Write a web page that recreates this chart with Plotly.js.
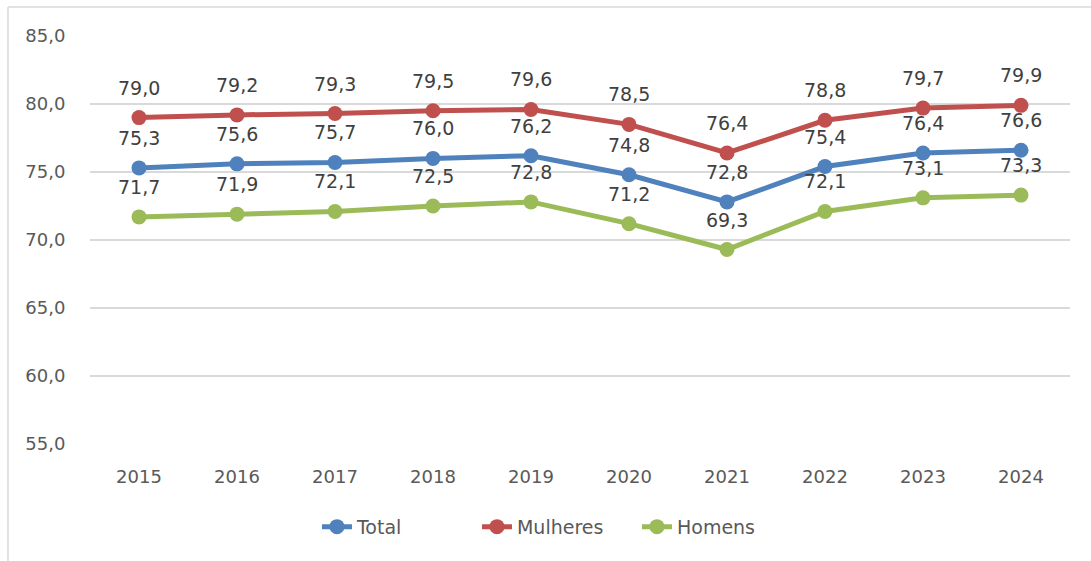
<!DOCTYPE html>
<html>
<head>
<meta charset="utf-8">
<script src="https://cdn.plot.ly/plotly-3.0.1.min.js"></script>
<style>html,body{margin:0;padding:0;background:#fff;}#chart{width:1091px;height:561px;}</style>
</head>
<body>
<div id="chart"></div>
<script>
const years = ['2015','2016','2017','2018','2019','2020','2021','2022','2023','2024'];
const total = [75.3, 75.6, 75.7, 76.0, 76.2, 74.8, 72.8, 75.4, 76.4, 76.6];
const mulheres = [79.0, 79.2, 79.3, 79.5, 79.6, 78.5, 76.4, 78.8, 79.7, 79.9];
const homens = [71.7, 71.9, 72.1, 72.5, 72.8, 71.2, 69.3, 72.1, 73.1, 73.3];
const seriesNames = ['Total', 'Mulheres', 'Homens'];
const colors = ['#4F81BD', '#C0504D', '#9BBB59'];
const yTicks = [55, 60, 65, 70, 75, 80, 85];

const FONT = 'DejaVu Sans, sans-serif';
const allSeries = [total, mulheres, homens];
const fmt = v => v.toFixed(1).replace('.', ',');
const xPos = years.map((_, i) => i);

const traces = allSeries.map((vals, i) => ({
  x: xPos, y: vals, name: seriesNames[i], type: 'scatter', mode: 'lines+markers',
  line: {color: colors[i], width: 5},
  marker: {color: colors[i], size: 15},
  hoverinfo: 'skip'
}));

const annotations = [];
allSeries.forEach(vals => {
  vals.forEach((v, j) => {
    annotations.push({
      x: xPos[j], y: v, xref: 'x', yref: 'y', text: fmt(v), showarrow: false,
      yanchor: 'middle', xanchor: 'center', yshift: 30,
      font: {family: FONT, size: 19, color: '#404040'}
    });
  });
});

const layout = {
  width: 1091, height: 561,
  margin: {l: 90, r: 21, t: 36, b: 117},
  paper_bgcolor: '#fff', plot_bgcolor: '#fff',
  separators: ',.',
  showlegend: true,
  legend: {orientation: 'h', x: 0.4765, xanchor: 'center', y: -0.203, yanchor: 'middle',
    font: {family: FONT, size: 19, color: '#595959'}, tracegroupgap: 0,
    entrywidth: 115, entrywidthmode: 'pixels'},
  xaxis: {type: 'linear', range: [-0.5, years.length - 0.5], tickvals: xPos, ticktext: years,
    showgrid: false, zeroline: false, showline: false,
    ticks: 'outside', ticklen: 16, tickcolor: 'rgba(0,0,0,0)',
    tickfont: {family: FONT, size: 18, color: '#595959'}},
  yaxis: {range: [55, 85], tickvals: yTicks, tickformat: '.1f',
    showgrid: true, gridcolor: '#D9D9D9', gridwidth: 1.5, zeroline: false, showline: false,
    ticks: 'outside', ticklen: 20, tickcolor: 'rgba(0,0,0,0)',
    tickfont: {family: FONT, size: 18, color: '#595959'}},
  annotations: annotations,
  shapes: [
    {type: 'line', xref: 'paper', yref: 'paper', x0: -0.0837, x1: 1.2, y0: 1.0711, y1: 1.0711,
      line: {color: '#D9D9D9', width: 1.5}},
    {type: 'line', xref: 'paper', yref: 'paper', x0: -0.0837, x1: -0.0837, y0: 1.0711, y1: -0.4,
      line: {color: '#D9D9D9', width: 1.5}}
  ]
};

Plotly.newPlot('chart', traces, layout, {displayModeBar: false, staticPlot: true});
</script>
</body>
</html>
